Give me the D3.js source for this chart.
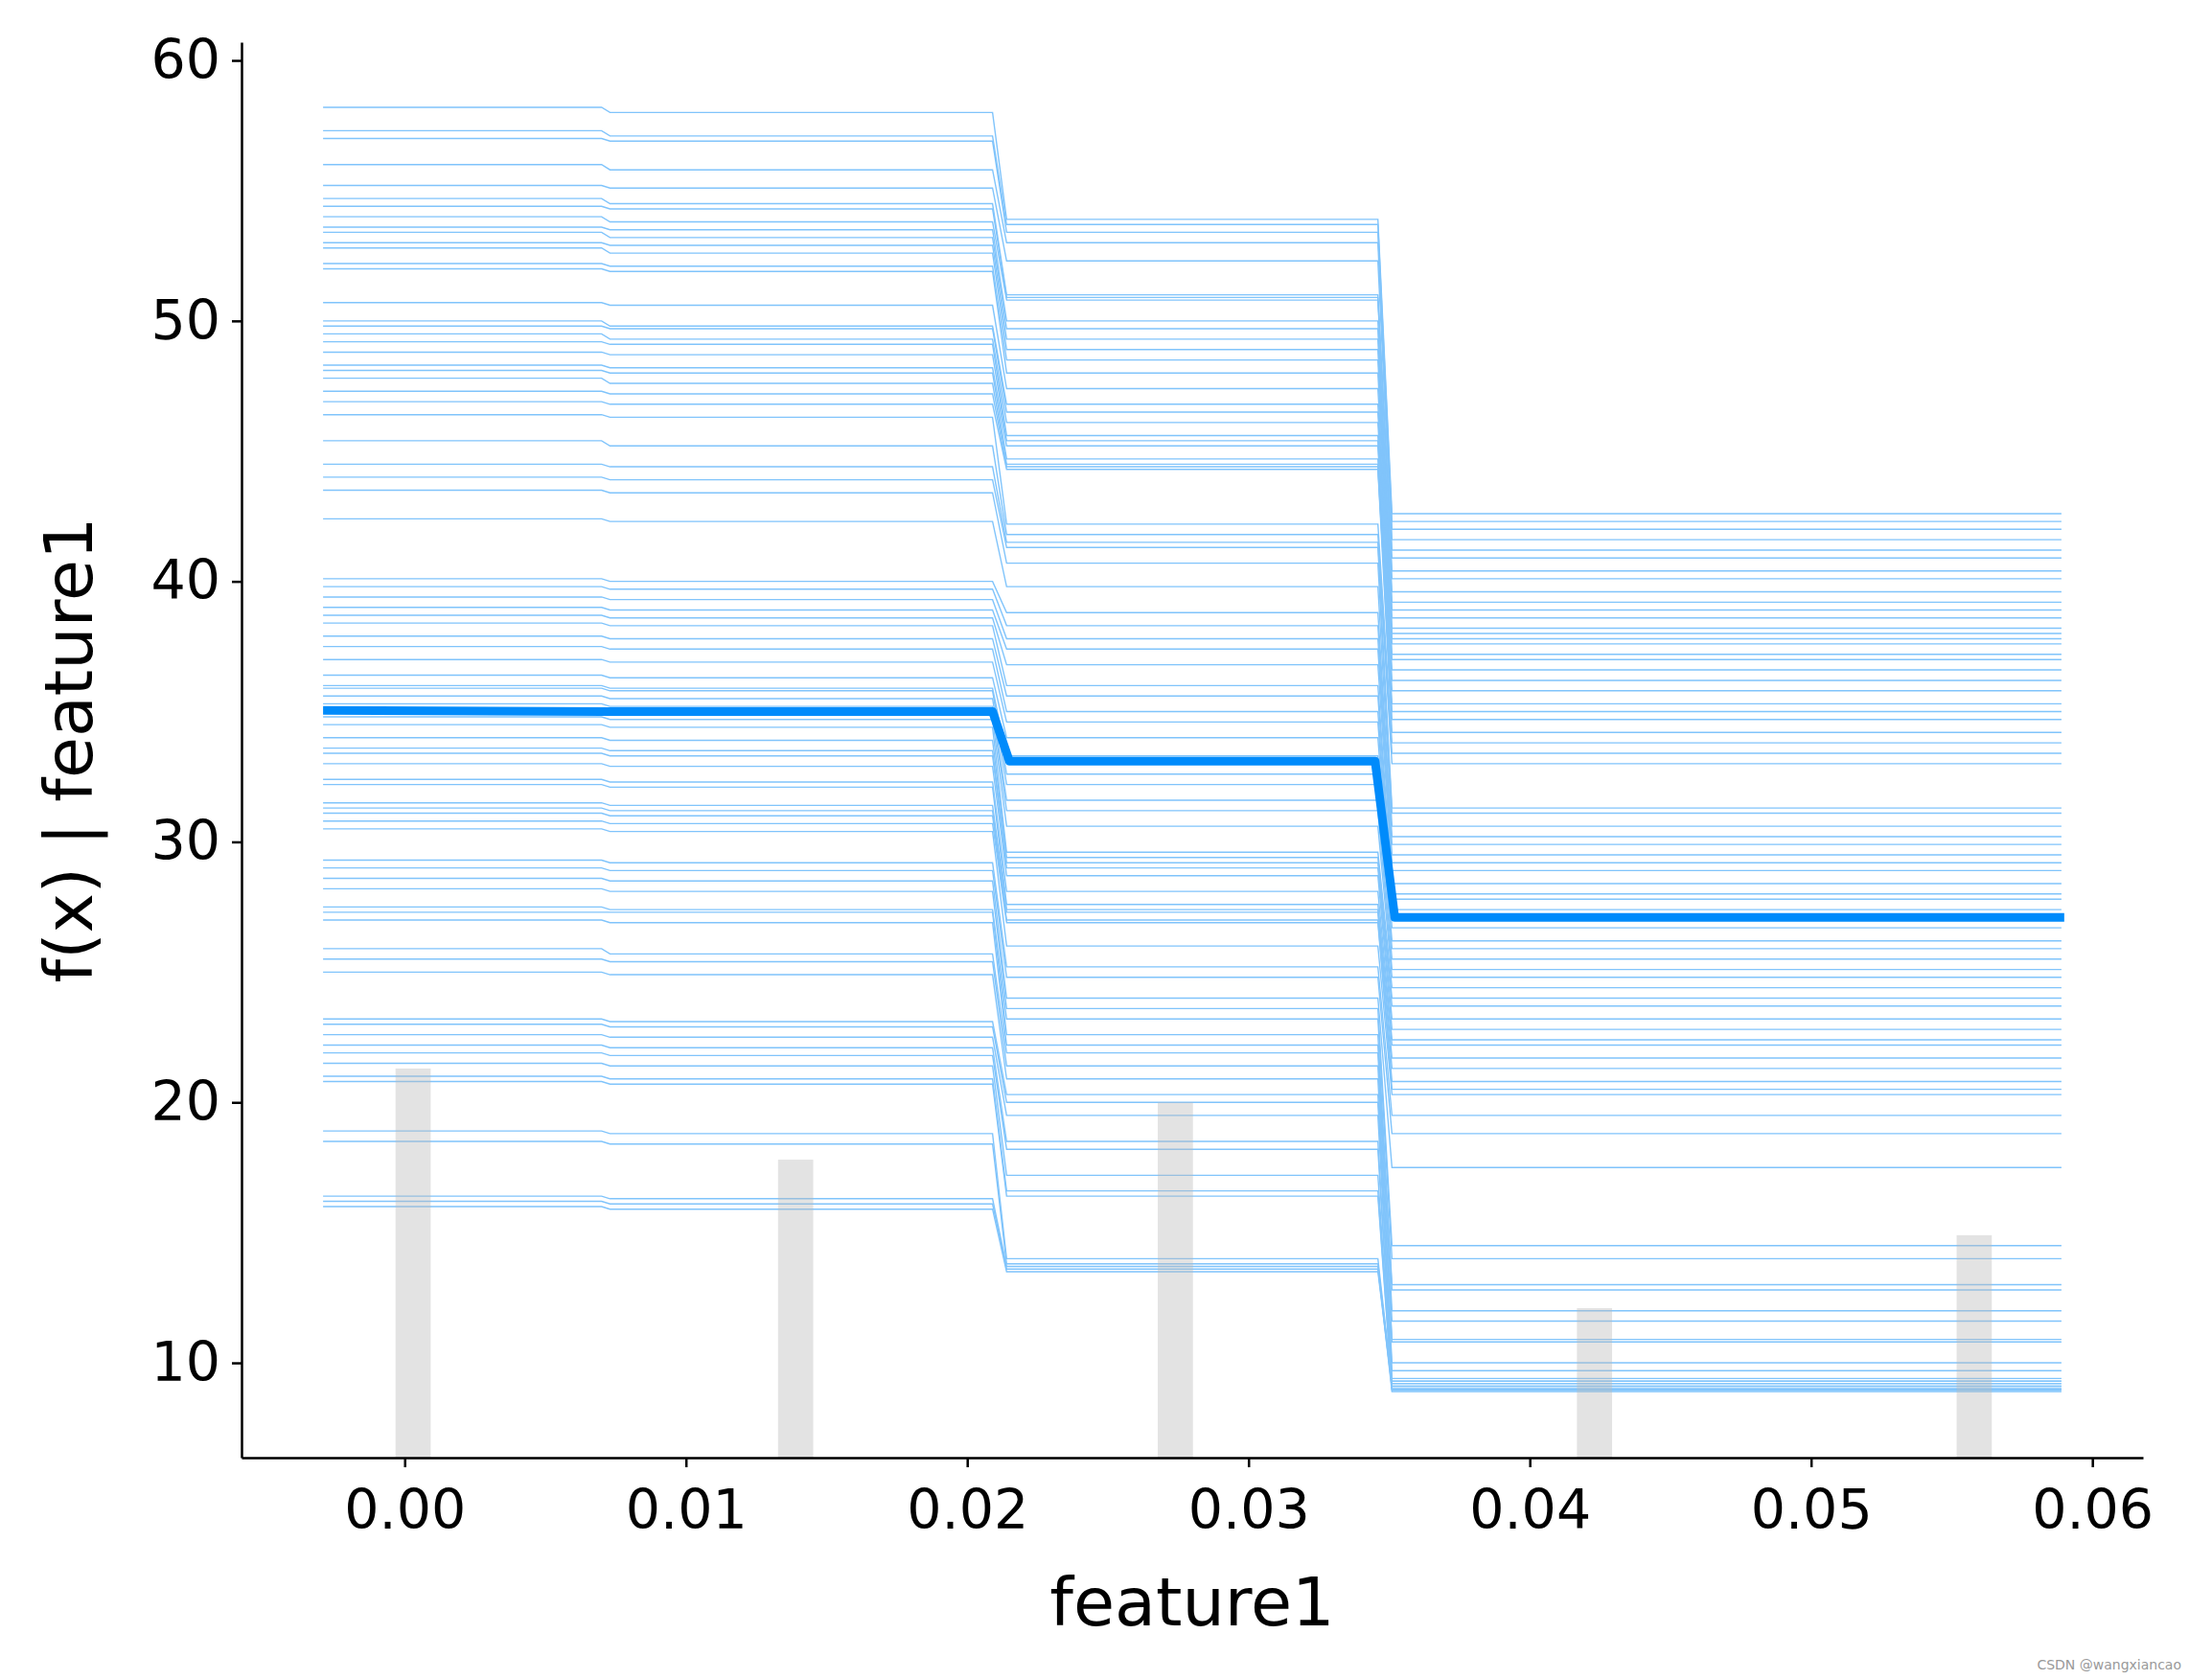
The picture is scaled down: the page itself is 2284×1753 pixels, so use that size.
<!DOCTYPE html>
<html><head><meta charset="utf-8">
<script src="https://cdn.jsdelivr.net/npm/d3@7"></script>
<style>body{margin:0;background:#fff}svg{font-family:"DejaVu Sans",sans-serif}</style>
</head><body><svg id="c" width="2284" height="1753"></svg>
<script>
// x positions of curve vertices
const xPoints = [-0.0029, 0.0209, 0.0214, 0.0346, 0.0351, 0.0589];
const kinkX = 0.0070;
// per-line values: segment A (before first drop), C (middle), D (after second drop)
const lineA = [58.2,57.3,57.0,56.0,55.2,54.7,54.4,54.0,53.6,53.4,53.0,52.8,52.2,52.0,50.7,50.0,49.8,49.5,49.2,48.8,48.3,48.1,47.8,47.3,46.9,46.4,45.4,44.5,44.0,43.5,42.4,40.1,39.8,39.4,39.0,38.7,38.4,37.9,37.5,37.0,36.4,36.0,35.9,35.6,35.3,35.1,34.8,34.5,34.0,33.6,33.4,33.0,32.4,32.2,31.5,31.3,31.1,30.8,30.5,29.3,29.0,28.6,28.2,27.5,27.3,27.0,25.9,25.5,25.0,23.2,23.0,22.6,22.2,21.9,21.5,21.0,20.8,18.9,18.5,16.4,16.2,16.0];
const lineAafterKink = [58.0,57.1,56.9,55.8,55.1,54.5,54.3,53.8,53.5,53.2,52.9,52.6,52.1,51.9,50.6,49.8,49.7,49.3,49.1,48.7,48.2,48.0,47.6,47.2,46.8,46.3,45.2,44.4,43.9,43.4,42.3,40.0,39.7,39.3,38.9,38.6,38.3,37.8,37.4,36.9,36.3,35.9,35.8,35.5,35.2,35.0,34.7,34.4,33.9,33.5,33.3,32.9,32.3,32.1,31.4,31.2,31.0,30.7,30.4,29.2,28.9,28.5,28.1,27.4,27.3,26.9,25.7,25.4,24.9,23.1,22.9,22.5,22.1,21.8,21.4,20.9,20.7,18.8,18.4,16.3,16.1,15.9];
const lineC = [53.9,53.7,53.4,53.0,52.3,51.0,50.9,50.8,50.0,49.7,49.3,48.9,48.5,48.0,47.4,46.8,46.5,46.1,45.6,45.4,45.2,44.7,44.5,44.4,44.3,42.2,41.8,41.5,41.3,40.7,39.8,38.8,38.3,37.8,37.4,36.8,36.0,35.6,35.0,34.6,34.0,33.3,32.6,32.2,31.6,31.2,30.6,29.6,29.4,29.2,29.0,28.7,28.1,27.6,27.4,27.3,27.0,26.9,26.0,25.2,24.8,24.0,23.6,23.2,22.6,22.2,21.9,21.4,20.9,20.3,20.0,19.5,18.5,18.2,17.2,16.6,16.4,14.0,13.8,13.7,13.6,13.5];
const lineD = [42.6,42.3,42.0,41.6,41.2,40.9,40.4,40.1,39.6,39.2,38.9,38.6,38.2,38.0,37.8,37.6,37.2,37.0,36.6,36.2,35.8,35.3,35.0,34.7,34.2,33.8,33.4,33.0,31.3,31.1,30.6,30.2,29.9,29.5,29.2,28.9,28.4,28.0,27.8,27.4,27.0,26.7,26.2,25.9,25.5,25.1,24.8,24.4,24.0,23.7,23.2,22.8,22.4,22.2,21.7,21.3,20.8,20.5,20.3,19.5,18.8,17.5,14.5,14.0,13.0,12.8,12.0,11.6,10.9,10.8,10.0,9.7,9.4,9.3,9.1,9.0,8.95,9.2,9.0,8.9,9.3,9.1];
// average curve
const meanX = [-0.0029, 0.0071, 0.0209, 0.0215, 0.0345, 0.0352, 0.0590];
const meanY = [35.05, 35.0, 35.0, 33.1, 33.1, 27.1, 27.1];
// histogram of feature values (bar centres and tops)
const histX = [0.0003, 0.0139, 0.0274, 0.0423, 0.0558];
const histTop = [21.3, 17.8, 20.0, 12.1, 14.9];
const xTicks = [0, 0.01, 0.02, 0.03, 0.04, 0.05, 0.06];
const yTicks = [10, 20, 30, 40, 50, 60];

const svg = d3.select('#c');
const L=252, R=2236, T=44, B=1521;
const x = d3.scaleLinear().domain([-0.0058, 0.0618]).range([L, R]);
const y = d3.scaleLinear().domain([6.36, 60.7]).range([B, T]);
const line = d3.line().x(d=>x(d[0])).y(d=>y(d[1]));

const g = svg.append('g');
lineA.forEach((a,i)=>{
  const pts = [[xPoints[0],a],[kinkX,a],[kinkX+0.0003,lineAafterKink[i]],[xPoints[1],lineAafterKink[i]],
    [xPoints[2],lineC[i]],[xPoints[3],lineC[i]],[xPoints[4],lineD[i]],[xPoints[5],lineD[i]]];
  g.append('path').attr('d',line(pts)).attr('fill','none')
   .attr('stroke','#80c4fb').attr('stroke-width',1.4);
});
svg.append('path').attr('d',line(meanX.map((v,i)=>[v,meanY[i]]))).attr('fill','none')
  .attr('stroke','#008bfb').attr('stroke-width',9).attr('stroke-linejoin','round');

const bw = x(0.00125)-x(0);
svg.selectAll('rect.h').data(histX).join('rect')
  .attr('x',d=>x(d)-bw/2).attr('width',bw)
  .attr('y',(d,i)=>y(histTop[i])).attr('height',(d,i)=>B-y(histTop[i]))
  .attr('fill','#b8b8b8').attr('opacity',0.4);

const xa = svg.append('g').attr('transform',`translate(0,${B})`)
  .call(d3.axisBottom(x).tickValues(xTicks).tickFormat(d3.format('.2f')).tickSize(10).tickPadding(12).tickSizeOuter(0));
const ya = svg.append('g').attr('transform',`translate(${L},0)`)
  .call(d3.axisLeft(y).tickValues(yTicks).tickSize(10).tickPadding(12).tickSizeOuter(0));
[xa,ya].forEach(a=>{a.selectAll('path,line').attr('stroke','#000').attr('stroke-width',2.5);
  a.selectAll('text').attr('font-size',57).attr('fill','#000').attr('font-family','DejaVu Sans');});
xa.selectAll('text').attr('dy','0.92em');
svg.append('text').attr('x',(L+R)/2).attr('y',1696).attr('text-anchor','middle')
  .attr('font-size',70).text('feature1');
svg.append('text').attr('transform',`translate(96,${(T+B)/2}) rotate(-90)`).attr('text-anchor','middle')
  .attr('font-size',70).text('f(x) | feature1');
svg.append('text').attr('x',2276).attr('y',1742).attr('text-anchor','end').attr('font-size',14)
  .attr('fill','#999').text('CSDN @wangxiancao');
</script></body></html>
